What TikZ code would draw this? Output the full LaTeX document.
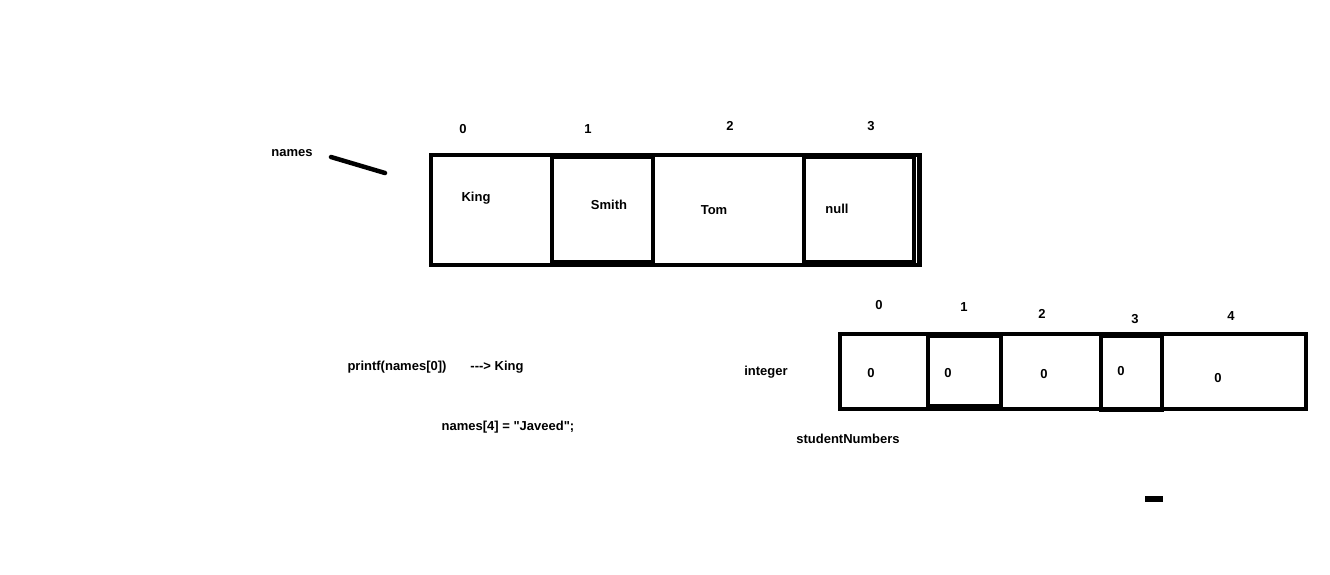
\documentclass[tikz,border=0pt]{standalone}
\usepackage{fontspec}
\newfontfamily\lblfont{Liberation Sans}
\begin{document}
\begin{tikzpicture}[x=1pt,y=-1pt,
  lbl/.style={font=\lblfont\bfseries\fontsize{13}{15}\selectfont,inner sep=0pt,anchor=center},
  box/.style={draw=black,line width=4pt},
  inner/.style={draw=black,line width=3.5pt}]
\useasboundingbox[fill=white] (0,0) rectangle (1330,574);
% names array
\draw[box] (431,155) rectangle (920,265);
\draw[inner] (552,157) rectangle (653,262);
\draw[inner] (804,157) rectangle (914,262);
\draw[line width=1.5pt] (918,155) -- (918,265);
\node[lbl] (n0) at (463,129) {0};
\node[lbl] (n1) at (588,129) {1};
\node[lbl] (n2) at (730,126) {2};
\node[lbl] (n3) at (871,126) {3};
\node[lbl] (king) at (476,198) {King};
\node[lbl] (smith) at (609,205) {Smith};
\node[lbl] (tom) at (714,210) {Tom};
\node[lbl] (null) at (837,209) {null};
\node[lbl] (names) at (292,153) {names};
\coordinate (la) at (331,157);
\coordinate (lb) at (385,173);
\draw[line width=4.5pt,line cap=round] (la) -- (lb);
% integer array
\draw[box] (840,334) rectangle (1306,409);
\draw[inner] (928,336) rectangle (1001,406);
\draw[line width=3pt] (928,407) -- (1001,407);
\draw[inner] (1101,336) rectangle (1162,410);
\node[lbl] (i0) at (879,305) {0};
\node[lbl] (i1) at (964,307) {1};
\node[lbl] (i2) at (1042,314) {2};
\node[lbl] (i3) at (1135,319) {3};
\node[lbl] (i4) at (1231,316) {4};
\node[lbl] (v0) at (871,373) {0};
\node[lbl] (v1) at (948,373) {0};
\node[lbl] (v2) at (1044,374) {0};
\node[lbl] (v3) at (1121,371) {0};
\node[lbl] (v4) at (1218,378) {0};
\node[lbl] (integer) at (766,372) {integer};
\node[lbl] (sn) at (848,439) {studentNumbers};
\node[lbl] (pf) at (397,367) {printf(names[0])};
\node[lbl] (arrk) at (497,367) {---> King};
\node[lbl] (jav) at (508,427) {names[4] = "Javeed";};
\fill[black] (1145,496) rectangle (1163,502);
\end{tikzpicture}
\end{document}
